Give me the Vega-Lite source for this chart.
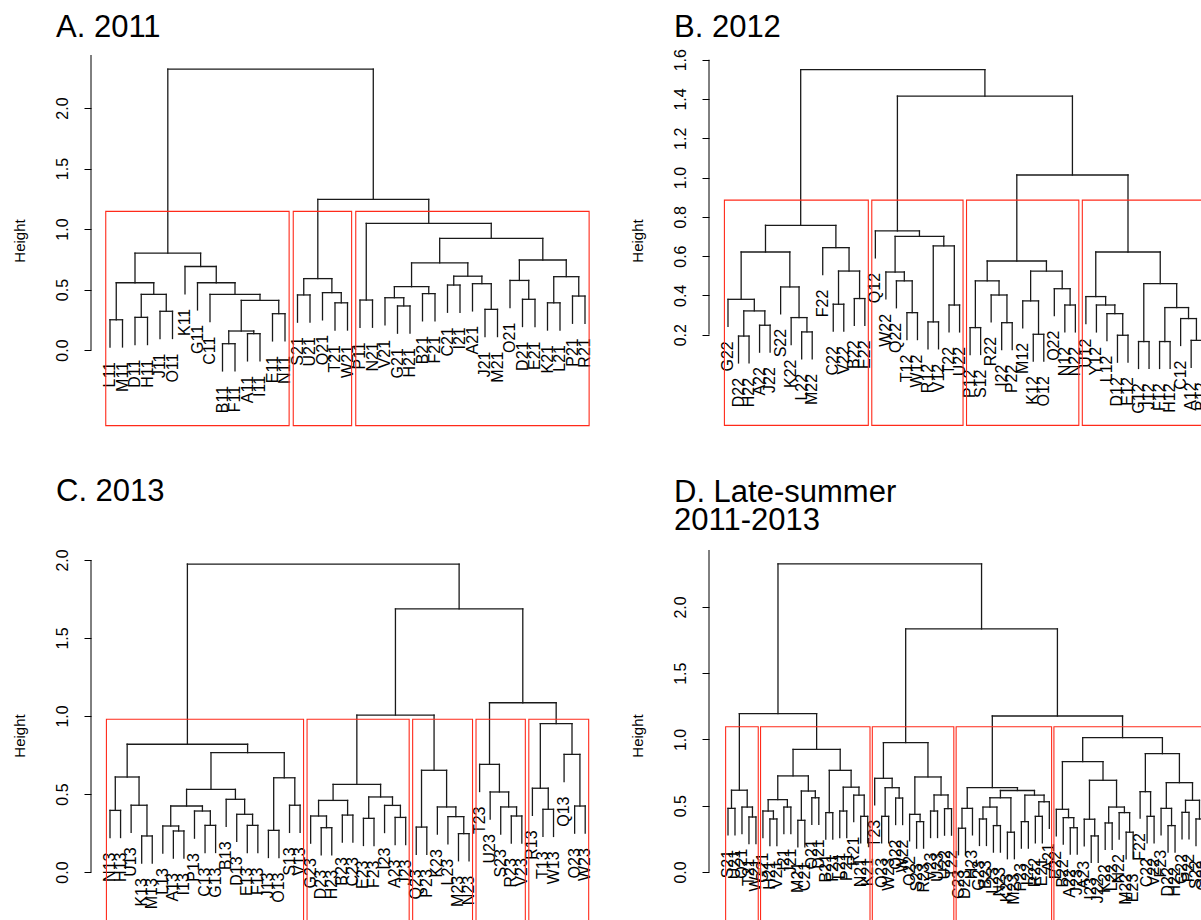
{
"$schema": "https://vega.github.io/schema/vega-lite/v6.json",
"autosize": {"type": "pad"},
"padding": {"left": 11, "top": 12, "right": 0, "bottom": 0},
"background": "white",
"columns": 2,
"bounds": "flush",
"spacing": {"row": 124, "column": 105},
"datasets": {
"aN": [
{"a":1,"b":2,"h":0.25,"p":0.025,"q":0.025},
{"a":3,"b":4,"h":0.27,"p":0.045,"q":0.045},
{"a":5,"b":6,"h":0.32,"p":0.095,"q":0.095},
{"a":3.5,"b":5.5,"h":0.46,"p":0.27,"q":0.32},
{"a":1.5,"b":4.5,"h":0.556,"p":0.25,"q":0.46},
{"a":10,"b":11,"h":0.052,"p":-0.173,"q":-0.173},
{"a":12,"b":13,"h":0.135,"p":-0.09,"q":-0.09},
{"a":10.5,"b":12.5,"h":0.157,"p":0.052,"q":0.135},
{"a":14,"b":15,"h":0.30,"p":0.075,"q":0.075},
{"a":11.5,"b":14.5,"h":0.41,"p":0.157,"q":0.30},
{"a":9,"b":13,"h":0.46,"p":0.235,"q":0.41},
{"a":8,"b":11,"h":0.556,"p":0.331,"q":0.46},
{"a":7,"b":9.5,"h":0.69,"p":0.465,"q":0.556},
{"a":3,"b":8.25,"h":0.80,"p":0.556,"q":0.69},
{"a":16,"b":17,"h":0.455,"p":0.23,"q":0.23},
{"a":19,"b":20,"h":0.39,"p":0.165,"q":0.165},
{"a":18,"b":19.5,"h":0.474,"p":0.249,"q":0.39},
{"a":16.5,"b":18.75,"h":0.59,"p":0.455,"q":0.474},
{"a":21,"b":22,"h":0.413,"p":0.188,"q":0.188},
{"a":24,"b":25,"h":0.364,"p":0.139,"q":0.139},
{"a":23,"b":24.5,"h":0.432,"p":0.207,"q":0.364},
{"a":26,"b":27,"h":0.466,"p":0.241,"q":0.241},
{"a":23.75,"b":26.5,"h":0.523,"p":0.432,"q":0.466},
{"a":28,"b":29,"h":0.537,"p":0.312,"q":0.312},
{"a":31,"b":32,"h":0.336,"p":0.111,"q":0.111},
{"a":30,"b":31.5,"h":0.548,"p":0.323,"q":0.336},
{"a":28.5,"b":30.75,"h":0.61,"p":0.537,"q":0.548},
{"a":25.125,"b":29.625,"h":0.72,"p":0.523,"q":0.61},
{"a":34,"b":35,"h":0.419,"p":0.194,"q":0.194},
{"a":33,"b":34.5,"h":0.575,"p":0.35,"q":0.419},
{"a":36,"b":37,"h":0.39,"p":0.165,"q":0.165},
{"a":38,"b":39,"h":0.446,"p":0.221,"q":0.221},
{"a":36.5,"b":38.5,"h":0.606,"p":0.39,"q":0.446},
{"a":33.75,"b":37.5,"h":0.744,"p":0.575,"q":0.606},
{"a":27.375,"b":35.625,"h":0.923,"p":0.72,"q":0.744},
{"a":21.5,"b":31.5,"h":1.047,"p":0.413,"q":0.923},
{"a":17.625,"b":26.5,"h":1.245,"p":0.59,"q":1.047},
{"a":5.625,"b":22.0625,"h":2.322,"p":0.80,"q":1.245}
],
"aL": [
{"i":1,"e":0.025,"t":"L11"},{"i":2,"e":0.025,"t":"M11"},{"i":3,"e":0.045,"t":"D11"},{"i":4,"e":0.045,"t":"H11"},{"i":5,"e":0.095,"t":"J11"},{"i":6,"e":0.095,"t":"O11"},{"i":7,"e":0.465,"t":"K11"},{"i":8,"e":0.331,"t":"G11"},{"i":9,"e":0.235,"t":"C11"},{"i":10,"e":-0.173,"t":"B11"},{"i":11,"e":-0.173,"t":"F11"},{"i":12,"e":-0.09,"t":"A11"},{"i":13,"e":-0.09,"t":"I11"},{"i":14,"e":0.075,"t":"E11"},{"i":15,"e":0.075,"t":"N11"},{"i":16,"e":0.23,"t":"S21"},{"i":17,"e":0.23,"t":"U21"},{"i":18,"e":0.249,"t":"Q21"},{"i":19,"e":0.165,"t":"T21"},{"i":20,"e":0.165,"t":"W21"},{"i":21,"e":0.188,"t":"P11"},{"i":22,"e":0.188,"t":"N21"},{"i":23,"e":0.207,"t":"V21"},{"i":24,"e":0.139,"t":"G21"},{"i":25,"e":0.139,"t":"H21"},{"i":26,"e":0.241,"t":"B21"},{"i":27,"e":0.241,"t":"F21"},{"i":28,"e":0.312,"t":"C21"},{"i":29,"e":0.312,"t":"I21"},{"i":30,"e":0.323,"t":"A21"},{"i":31,"e":0.111,"t":"J21"},{"i":32,"e":0.111,"t":"M21"},{"i":33,"e":0.35,"t":"O21"},{"i":34,"e":0.194,"t":"D21"},{"i":35,"e":0.194,"t":"E21"},{"i":36,"e":0.165,"t":"K21"},{"i":37,"e":0.165,"t":"L21"},{"i":38,"e":0.221,"t":"P21"},{"i":39,"e":0.221,"t":"R21"}
],
"aR": [
{"l":0.66,"r":15.33,"t":1.146,"u":-0.625},{"l":15.66,"r":20.33,"t":1.146,"u":-0.625},{"l":20.66,"r":39.33,"t":1.146,"u":-0.625}
],
"bN": [
{"a":2,"b":3,"h":0.193,"p":0.056,"q":0.056},
{"a":4,"b":5,"h":0.248,"p":0.111,"q":0.111},
{"a":2.5,"b":4.5,"h":0.321,"p":0.193,"q":0.248},
{"a":1,"b":3.5,"h":0.38,"p":0.243,"q":0.321},
{"a":8,"b":9,"h":0.214,"p":0.077,"q":0.077},
{"a":7,"b":8.5,"h":0.287,"p":0.15,"q":0.214},
{"a":6,"b":7.75,"h":0.443,"p":0.306,"q":0.287},
{"a":2.25,"b":6.875,"h":0.621,"p":0.38,"q":0.443},
{"a":11,"b":12,"h":0.355,"p":0.218,"q":0.218},
{"a":13,"b":14,"h":0.384,"p":0.247,"q":0.247},
{"a":11.5,"b":13.5,"h":0.524,"p":0.355,"q":0.384},
{"a":10,"b":12.5,"h":0.643,"p":0.506,"q":0.524},
{"a":4.5625,"b":11.25,"h":0.757,"p":0.621,"q":0.643},
{"a":18,"b":19,"h":0.312,"p":0.175,"q":0.175},
{"a":17,"b":18.5,"h":0.474,"p":0.337,"q":0.312},
{"a":16,"b":17.75,"h":0.519,"p":0.382,"q":0.474},
{"a":20,"b":21,"h":0.265,"p":0.128,"q":0.128},
{"a":22,"b":23,"h":0.351,"p":0.214,"q":0.214},
{"a":20.5,"b":22.5,"h":0.652,"p":0.265,"q":0.351},
{"a":16.875,"b":21.5,"h":0.701,"p":0.519,"q":0.652},
{"a":15,"b":19.1875,"h":0.728,"p":0.591,"q":0.701},
{"a":24,"b":25,"h":0.236,"p":0.099,"q":0.099},
{"a":27,"b":28,"h":0.261,"p":0.124,"q":0.124},
{"a":26,"b":27.5,"h":0.402,"p":0.265,"q":0.261},
{"a":24.5,"b":26.75,"h":0.474,"p":0.236,"q":0.402},
{"a":30,"b":31,"h":0.202,"p":0.065,"q":0.065},
{"a":29,"b":30.5,"h":0.372,"p":0.235,"q":0.202},
{"a":33,"b":34,"h":0.351,"p":0.214,"q":0.214},
{"a":32,"b":33.5,"h":0.434,"p":0.297,"q":0.351},
{"a":29.75,"b":32.75,"h":0.524,"p":0.372,"q":0.434},
{"a":25.625,"b":31.25,"h":0.575,"p":0.474,"q":0.524},
{"a":38,"b":39,"h":0.197,"p":0.06,"q":0.06},
{"a":37,"b":38.5,"h":0.307,"p":0.17,"q":0.197},
{"a":36,"b":37.75,"h":0.351,"p":0.214,"q":0.307},
{"a":35,"b":36.875,"h":0.394,"p":0.257,"q":0.351},
{"a":40,"b":41,"h":0.165,"p":0.028,"q":0.028},
{"a":42,"b":43,"h":0.165,"p":0.028,"q":0.028},
{"a":45,"b":46,"h":0.171,"p":0.034,"q":0.034},
{"a":44,"b":45.5,"h":0.282,"p":0.145,"q":0.171},
{"a":42.5,"b":44.75,"h":0.338,"p":0.165,"q":0.282},
{"a":40.5,"b":43.625,"h":0.46,"p":0.165,"q":0.338},
{"a":35.9375,"b":42.0625,"h":0.621,"p":0.394,"q":0.46},
{"a":28.4375,"b":39,"h":1.013,"p":0.575,"q":0.621},
{"a":17.094,"b":33.72,"h":1.415,"p":0.728,"q":1.013},
{"a":7.906,"b":25.407,"h":1.55,"p":0.757,"q":1.415}
],
"bL": [
{"i":1,"e":0.243,"t":"G22"},{"i":2,"e":0.056,"t":"D22"},{"i":3,"e":0.056,"t":"H22"},{"i":4,"e":0.111,"t":"A22"},{"i":5,"e":0.111,"t":"J22"},{"i":6,"e":0.306,"t":"S22"},{"i":7,"e":0.15,"t":"K22"},{"i":8,"e":0.077,"t":"L22"},{"i":9,"e":0.077,"t":"M22"},{"i":10,"e":0.506,"t":"F22"},{"i":11,"e":0.218,"t":"C22"},{"i":12,"e":0.218,"t":"V22"},{"i":13,"e":0.247,"t":"B22"},{"i":14,"e":0.247,"t":"E22"},{"i":15,"e":0.591,"t":"Q12"},{"i":16,"e":0.382,"t":"W22"},{"i":17,"e":0.337,"t":"Q22"},{"i":18,"e":0.175,"t":"T12"},{"i":19,"e":0.175,"t":"W12"},{"i":20,"e":0.128,"t":"R12"},{"i":21,"e":0.128,"t":"V12"},{"i":22,"e":0.214,"t":"T22"},{"i":23,"e":0.214,"t":"U22"},{"i":24,"e":0.099,"t":"P12"},{"i":25,"e":0.099,"t":"S12"},{"i":26,"e":0.265,"t":"R22"},{"i":27,"e":0.124,"t":"I22"},{"i":28,"e":0.124,"t":"P22"},{"i":29,"e":0.235,"t":"M12"},{"i":30,"e":0.065,"t":"K12"},{"i":31,"e":0.065,"t":"O12"},{"i":32,"e":0.297,"t":"O22"},{"i":33,"e":0.214,"t":"N12"},{"i":34,"e":0.214,"t":"N22"},{"i":35,"e":0.257,"t":"U12"},{"i":36,"e":0.214,"t":"Y12"},{"i":37,"e":0.17,"t":"L12"},{"i":38,"e":0.06,"t":"D12"},{"i":39,"e":0.06,"t":"E12"},{"i":40,"e":0.028,"t":"G12"},{"i":41,"e":0.028,"t":"J12"},{"i":42,"e":0.028,"t":"F12"},{"i":43,"e":0.028,"t":"H12"},{"i":44,"e":0.145,"t":"C12"},{"i":45,"e":0.034,"t":"A12"},{"i":46,"e":0.034,"t":"B12"}
],
"bR": [
{"l":0.66,"r":14.33,"t":0.885,"u":-0.262},{"l":14.66,"r":23.33,"t":0.885,"u":-0.262},{"l":23.66,"r":34.33,"t":0.885,"u":-0.262},{"l":34.66,"r":46.33,"t":0.885,"u":-0.262}
],
"cN": [
{"a":1,"b":2,"h":0.395,"p":0.221,"q":0.221},
{"a":4,"b":5,"h":0.231,"p":0.057,"q":0.057},
{"a":3,"b":4.5,"h":0.428,"p":0.254,"q":0.231},
{"a":1.5,"b":3.75,"h":0.609,"p":0.395,"q":0.428},
{"a":7,"b":8,"h":0.263,"p":0.089,"q":0.089},
{"a":6,"b":7.5,"h":0.295,"p":0.121,"q":0.263},
{"a":10,"b":11,"h":0.299,"p":0.125,"q":0.125},
{"a":9,"b":10.5,"h":0.391,"p":0.217,"q":0.299},
{"a":6.75,"b":9.75,"h":0.423,"p":0.295,"q":0.391},
{"a":14,"b":15,"h":0.299,"p":0.125,"q":0.125},
{"a":13,"b":14.5,"h":0.37,"p":0.196,"q":0.299},
{"a":12,"b":13.75,"h":0.466,"p":0.292,"q":0.37},
{"a":8.25,"b":12.875,"h":0.53,"p":0.423,"q":0.466},
{"a":16,"b":17,"h":0.267,"p":0.093,"q":0.093},
{"a":18,"b":19,"h":0.428,"p":0.254,"q":0.254},
{"a":16.5,"b":18.5,"h":0.604,"p":0.267,"q":0.428},
{"a":10.5625,"b":17.5,"h":0.765,"p":0.53,"q":0.604},
{"a":2.625,"b":14.03,"h":0.819,"p":0.609,"q":0.765},
{"a":21,"b":22,"h":0.284,"p":0.11,"q":0.11},
{"a":20,"b":21.5,"h":0.359,"p":0.185,"q":0.284},
{"a":23,"b":24,"h":0.365,"p":0.191,"q":0.191},
{"a":20.75,"b":23.5,"h":0.459,"p":0.359,"q":0.365},
{"a":25,"b":26,"h":0.344,"p":0.17,"q":0.17},
{"a":28,"b":29,"h":0.35,"p":0.176,"q":0.176},
{"a":27,"b":28.5,"h":0.427,"p":0.253,"q":0.35},
{"a":25.5,"b":27.75,"h":0.481,"p":0.344,"q":0.427},
{"a":22.125,"b":26.625,"h":0.562,"p":0.459,"q":0.481},
{"a":30,"b":31,"h":0.288,"p":0.114,"q":0.114},
{"a":34,"b":35,"h":0.246,"p":0.072,"q":0.072},
{"a":33,"b":34.5,"h":0.355,"p":0.181,"q":0.246},
{"a":32,"b":33.75,"h":0.417,"p":0.243,"q":0.355},
{"a":30.5,"b":32.875,"h":0.652,"p":0.288,"q":0.417},
{"a":24.375,"b":31.6875,"h":1.006,"p":0.562,"q":0.652},
{"a":39,"b":40,"h":0.359,"p":0.185,"q":0.185},
{"a":38,"b":39.5,"h":0.417,"p":0.243,"q":0.359},
{"a":37,"b":38.75,"h":0.513,"p":0.339,"q":0.417},
{"a":36,"b":37.875,"h":0.69,"p":0.516,"q":0.513},
{"a":42,"b":43,"h":0.402,"p":0.228,"q":0.228},
{"a":41,"b":42.5,"h":0.537,"p":0.363,"q":0.402},
{"a":45,"b":46,"h":0.423,"p":0.249,"q":0.249},
{"a":44,"b":45.5,"h":0.754,"p":0.58,"q":0.423},
{"a":41.75,"b":44.75,"h":0.951,"p":0.537,"q":0.754},
{"a":36.9375,"b":43.25,"h":1.085,"p":0.69,"q":0.951},
{"a":28.03,"b":40.09,"h":1.686,"p":1.006,"q":1.085},
{"a":8.328,"b":34.06,"h":1.974,"p":0.819,"q":1.686}
],
"cL": [
{"i":1,"e":0.221,"t":"N13"},{"i":2,"e":0.221,"t":"H13"},{"i":3,"e":0.254,"t":"U13"},{"i":4,"e":0.057,"t":"K13"},{"i":5,"e":0.057,"t":"M13"},{"i":6,"e":0.121,"t":"L13"},{"i":7,"e":0.089,"t":"A13"},{"i":8,"e":0.089,"t":"I13"},{"i":9,"e":0.217,"t":"P13"},{"i":10,"e":0.125,"t":"C13"},{"i":11,"e":0.125,"t":"G13"},{"i":12,"e":0.292,"t":"B13"},{"i":13,"e":0.196,"t":"D13"},{"i":14,"e":0.125,"t":"E13"},{"i":15,"e":0.125,"t":"F13"},{"i":16,"e":0.093,"t":"J13"},{"i":17,"e":0.093,"t":"O13"},{"i":18,"e":0.254,"t":"S13"},{"i":19,"e":0.254,"t":"V13"},{"i":20,"e":0.185,"t":"G23"},{"i":21,"e":0.11,"t":"D23"},{"i":22,"e":0.11,"t":"H23"},{"i":23,"e":0.191,"t":"B23"},{"i":24,"e":0.191,"t":"C23"},{"i":25,"e":0.17,"t":"E23"},{"i":26,"e":0.17,"t":"F23"},{"i":27,"e":0.253,"t":"I23"},{"i":28,"e":0.176,"t":"A23"},{"i":29,"e":0.176,"t":"J23"},{"i":30,"e":0.114,"t":"Q23"},{"i":31,"e":0.114,"t":"P23"},{"i":32,"e":0.243,"t":"K23"},{"i":33,"e":0.181,"t":"L23"},{"i":34,"e":0.072,"t":"M23"},{"i":35,"e":0.072,"t":"N23"},{"i":36,"e":0.516,"t":"T23"},{"i":37,"e":0.339,"t":"U23"},{"i":38,"e":0.243,"t":"S23"},{"i":39,"e":0.185,"t":"R23"},{"i":40,"e":0.185,"t":"V23"},{"i":41,"e":0.363,"t":"R13"},{"i":42,"e":0.228,"t":"T13"},{"i":43,"e":0.228,"t":"W13"},{"i":44,"e":0.58,"t":"Q13"},{"i":45,"e":0.249,"t":"O23"},{"i":46,"e":0.249,"t":"W23"}
],
"cR": [
{"l":0.66,"r":19.33,"t":0.979,"u":-1},{"l":19.66,"r":29.33,"t":0.979,"u":-1},{"l":29.66,"r":35.33,"t":0.979,"u":-1},{"l":35.66,"r":40.33,"t":0.979,"u":-1},{"l":40.66,"r":46.33,"t":0.979,"u":-1}
],
"dN": [
{"a":1,"b":2,"h":0.48,"p":0.28,"q":0.28},
{"a":4,"b":5,"h":0.415,"p":0.215,"q":0.215},
{"a":3,"b":4.5,"h":0.49,"p":0.29,"q":0.415},
{"a":1.5,"b":3.75,"h":0.617,"p":0.48,"q":0.49},
{"a":7,"b":8,"h":0.40,"p":0.2,"q":0.2},
{"a":6,"b":7.5,"h":0.46,"p":0.26,"q":0.40},
{"a":9,"b":10,"h":0.49,"p":0.29,"q":0.29},
{"a":6.75,"b":9.5,"h":0.546,"p":0.46,"q":0.49},
{"a":11,"b":12,"h":0.39,"p":0.19,"q":0.19},
{"a":13,"b":14,"h":0.56,"p":0.36,"q":0.36},
{"a":11.5,"b":13.5,"h":0.611,"p":0.39,"q":0.56},
{"a":8.125,"b":12.5,"h":0.725,"p":0.546,"q":0.611},
{"a":15,"b":16,"h":0.448,"p":0.248,"q":0.248},
{"a":17,"b":18,"h":0.46,"p":0.26,"q":0.26},
{"a":20,"b":21,"h":0.42,"p":0.22,"q":0.22},
{"a":19,"b":20.5,"h":0.58,"p":0.38,"q":0.42},
{"a":17.5,"b":19.75,"h":0.64,"p":0.46,"q":0.58},
{"a":15.5,"b":18.625,"h":0.767,"p":0.448,"q":0.64},
{"a":10.3125,"b":17.0625,"h":0.926,"p":0.725,"q":0.767},
{"a":2.625,"b":13.6875,"h":1.195,"p":0.617,"q":0.926},
{"a":23,"b":24,"h":0.42,"p":0.22,"q":0.22},
{"a":25,"b":26,"h":0.558,"p":0.358,"q":0.358},
{"a":23.5,"b":25.5,"h":0.636,"p":0.42,"q":0.558},
{"a":22,"b":24.5,"h":0.707,"p":0.507,"q":0.636},
{"a":28,"b":29,"h":0.38,"p":0.18,"q":0.18},
{"a":27,"b":28.5,"h":0.435,"p":0.235,"q":0.38},
{"a":30,"b":31,"h":0.46,"p":0.26,"q":0.26},
{"a":32,"b":33,"h":0.478,"p":0.278,"q":0.278},
{"a":30.5,"b":32.5,"h":0.581,"p":0.46,"q":0.478},
{"a":27.75,"b":31.5,"h":0.717,"p":0.435,"q":0.581},
{"a":23.25,"b":29.625,"h":0.976,"p":0.707,"q":0.717},
{"a":34,"b":35,"h":0.33,"p":0.13,"q":0.13},
{"a":34.5,"b":36,"h":0.48,"p":0.33,"q":0.28},
{"a":37,"b":38,"h":0.40,"p":0.2,"q":0.2},
{"a":39,"b":40,"h":0.35,"p":0.15,"q":0.15},
{"a":37.5,"b":39.5,"h":0.49,"p":0.40,"q":0.35},
{"a":41,"b":42,"h":0.30,"p":0.1,"q":0.1},
{"a":38.5,"b":41.5,"h":0.56,"p":0.49,"q":0.30},
{"a":43,"b":44,"h":0.38,"p":0.18,"q":0.18},
{"a":45,"b":46,"h":0.42,"p":0.22,"q":0.22},
{"a":45.5,"b":47,"h":0.53,"p":0.42,"q":0.33},
{"a":43.5,"b":46.25,"h":0.58,"p":0.38,"q":0.53},
{"a":40,"b":44.875,"h":0.615,"p":0.56,"q":0.58},
{"a":35.25,"b":42.4375,"h":0.636,"p":0.48,"q":0.615},
{"a":50,"b":51,"h":0.334,"p":0.134,"q":0.134},
{"a":49,"b":50.5,"h":0.41,"p":0.21,"q":0.334},
{"a":48,"b":49.75,"h":0.473,"p":0.273,"q":0.41},
{"a":53,"b":54,"h":0.272,"p":0.072,"q":0.072},
{"a":52,"b":53.5,"h":0.398,"p":0.198,"q":0.272},
{"a":55,"b":56,"h":0.37,"p":0.17,"q":0.17},
{"a":58,"b":59,"h":0.30,"p":0.1,"q":0.1},
{"a":57,"b":58.5,"h":0.448,"p":0.248,"q":0.30},
{"a":55.5,"b":57.75,"h":0.49,"p":0.37,"q":0.448},
{"a":52.75,"b":56.625,"h":0.692,"p":0.398,"q":0.49},
{"a":48.875,"b":54.6875,"h":0.833,"p":0.473,"q":0.692},
{"a":61,"b":62,"h":0.42,"p":0.22,"q":0.22},
{"a":60,"b":61.5,"h":0.606,"p":0.406,"q":0.42},
{"a":64,"b":65,"h":0.35,"p":0.15,"q":0.15},
{"a":63,"b":64.5,"h":0.48,"p":0.28,"q":0.35},
{"a":66,"b":67,"h":0.45,"p":0.25,"q":0.25},
{"a":68,"b":69,"h":0.40,"p":0.2,"q":0.2},
{"a":66.5,"b":68.5,"h":0.541,"p":0.45,"q":0.40},
{"a":63.75,"b":67.5,"h":0.674,"p":0.48,"q":0.541},
{"a":60.75,"b":65.625,"h":0.893,"p":0.606,"q":0.674},
{"a":51.78,"b":63.19,"h":1.014,"p":0.833,"q":0.893},
{"a":38.84,"b":57.485,"h":1.177,"p":0.636,"q":1.014},
{"a":26.4375,"b":48.16,"h":1.834,"p":0.976,"q":1.177},
{"a":8.156,"b":37.3,"h":2.325,"p":1.195,"q":1.834}
],
"dL": [
{"i":1,"e":0.28,"t":"S21"},{"i":2,"e":0.28,"t":"U21"},{"i":3,"e":0.29,"t":"Q21"},{"i":4,"e":0.215,"t":"T21"},{"i":5,"e":0.215,"t":"W21"},{"i":6,"e":0.26,"t":"G21"},{"i":7,"e":0.2,"t":"H21"},{"i":8,"e":0.2,"t":"V21"},{"i":9,"e":0.29,"t":"I21"},{"i":10,"e":0.29,"t":"J21"},{"i":11,"e":0.19,"t":"M21"},{"i":12,"e":0.19,"t":"C21"},{"i":13,"e":0.36,"t":"O21"},{"i":14,"e":0.36,"t":"D21"},{"i":15,"e":0.248,"t":"B21"},{"i":16,"e":0.248,"t":"F21"},{"i":17,"e":0.26,"t":"L21"},{"i":18,"e":0.26,"t":"P21"},{"i":19,"e":0.38,"t":"R21"},{"i":20,"e":0.22,"t":"N21"},{"i":21,"e":0.22,"t":"K21"},{"i":22,"e":0.507,"t":"T23"},{"i":23,"e":0.22,"t":"O23"},{"i":24,"e":0.22,"t":"W23"},{"i":25,"e":0.358,"t":"Q22"},{"i":26,"e":0.358,"t":"W22"},{"i":27,"e":0.235,"t":"O22"},{"i":28,"e":0.18,"t":"S23"},{"i":29,"e":0.18,"t":"R23"},{"i":30,"e":0.26,"t":"V23"},{"i":31,"e":0.26,"t":"U23"},{"i":32,"e":0.278,"t":"U22"},{"i":33,"e":0.278,"t":"T22"},{"i":34,"e":0.13,"t":"C23"},{"i":35,"e":0.13,"t":"D23"},{"i":36,"e":0.28,"t":"H23"},{"i":37,"e":0.2,"t":"G23"},{"i":38,"e":0.2,"t":"B23"},{"i":39,"e":0.15,"t":"L23"},{"i":40,"e":0.15,"t":"N23"},{"i":41,"e":0.1,"t":"K23"},{"i":42,"e":0.1,"t":"M23"},{"i":43,"e":0.18,"t":"P23"},{"i":44,"e":0.18,"t":"I22"},{"i":45,"e":0.22,"t":"R22"},{"i":46,"e":0.22,"t":"E21"},{"i":47,"e":0.33,"t":"A21"},{"i":48,"e":0.273,"t":"E22"},{"i":49,"e":0.21,"t":"B22"},{"i":50,"e":0.134,"t":"A22"},{"i":51,"e":0.134,"t":"J23"},{"i":52,"e":0.198,"t":"A23"},{"i":53,"e":0.072,"t":"I23"},{"i":54,"e":0.072,"t":"J22"},{"i":55,"e":0.17,"t":"K22"},{"i":56,"e":0.17,"t":"L22"},{"i":57,"e":0.248,"t":"N22"},{"i":58,"e":0.1,"t":"M22"},{"i":59,"e":0.1,"t":"E23"},{"i":60,"e":0.406,"t":"F22"},{"i":61,"e":0.22,"t":"C22"},{"i":62,"e":0.22,"t":"V22"},{"i":63,"e":0.28,"t":"F23"},{"i":64,"e":0.15,"t":"D22"},{"i":65,"e":0.15,"t":"H22"},{"i":66,"e":0.25,"t":"G22"},{"i":67,"e":0.25,"t":"P22"},{"i":68,"e":0.2,"t":"S22"},{"i":69,"e":0.2,"t":"Q23"}
],
"dR": [
{"l":0.66,"r":5.33,"t":1.096,"u":-1},{"l":5.66,"r":21.33,"t":1.096,"u":-1},{"l":21.66,"r":33.33,"t":1.096,"u":-1},{"l":33.66,"r":47.33,"t":1.096,"u":-1},{"l":47.66,"r":69.33,"t":1.096,"u":-1}
]
},
"concat": [
{
"width": 513, "height": 371,
"title": {"text": "A. 2011", "offset": 10.5},
"layer": [
{"data": {"name": "aN"}, "mark": {"type": "rule", "color": "#1a1a1a", "strokeWidth": 1.3, "strokeCap": "square", "clip": true},
 "encoding": {"x": {"field": "a", "type": "quantitative", "scale": {"domain": [-0.52, 40.52], "nice": false, "zero": false}, "axis": null}, "x2": {"field": "b"},
  "y": {"field": "h", "type": "quantitative", "title": "Height", "scale": {"domain": [-0.628, 2.438], "nice": false, "zero": false}, "axis": {"title": "Height", "titleFontSize": 15, "titleFont": "Liberation Sans", "titlePadding": 27, "values": [0, 0.5, 1, 1.5, 2]}}}},
{"data": {"name": "aN"}, "mark": {"type": "rule", "color": "#1a1a1a", "strokeWidth": 1.3, "strokeCap": "square", "clip": true},
 "encoding": {"x": {"field": "a", "type": "quantitative", "scale": {"domain": [-0.52, 40.52], "nice": false, "zero": false}, "axis": null},
  "y": {"field": "p", "type": "quantitative", "title": "Height", "scale": {"domain": [-0.628, 2.438], "nice": false, "zero": false}}, "y2": {"field": "h"}}},
{"data": {"name": "aN"}, "mark": {"type": "rule", "color": "#1a1a1a", "strokeWidth": 1.3, "strokeCap": "square", "clip": true},
 "encoding": {"x": {"field": "b", "type": "quantitative", "scale": {"domain": [-0.52, 40.52], "nice": false, "zero": false}, "axis": null},
  "y": {"field": "q", "type": "quantitative", "title": "Height", "scale": {"domain": [-0.628, 2.438], "nice": false, "zero": false}}, "y2": {"field": "h"}}},
{"data": {"name": "aL"}, "mark": {"type": "text", "angle": 270, "align": "right", "baseline": "middle", "dx": -15, "fontSize": 16, "font": "Liberation Sans", "color": "#000", "clip": true},
 "encoding": {"x": {"field": "i", "type": "quantitative", "scale": {"domain": [-0.52, 40.52], "nice": false, "zero": false}, "axis": null},
  "y": {"field": "e", "type": "quantitative", "title": "Height", "scale": {"domain": [-0.628, 2.438], "nice": false, "zero": false}}, "text": {"field": "t"}}},
{"data": {"name": "aR"}, "mark": {"type": "rect", "fillOpacity": 0, "stroke": "#ff2a1a", "strokeWidth": 1.1},
 "encoding": {"x": {"field": "l", "type": "quantitative", "scale": {"domain": [-0.52, 40.52], "nice": false, "zero": false}, "axis": null}, "x2": {"field": "r"},
  "y": {"field": "t", "type": "quantitative", "title": "Height", "scale": {"domain": [-0.628, 2.438], "nice": false, "zero": false}}, "y2": {"field": "u"}}},
{"data": {"values": [{}]}, "mark": {"type": "rule", "color": "#000", "strokeWidth": 1},
 "encoding": {"x": {"datum": -0.52, "type": "quantitative", "scale": {"domain": [-0.52, 40.52], "nice": false, "zero": false}, "axis": null},
  "y": {"datum": 0, "type": "quantitative", "title": "Height", "scale": {"domain": [-0.628, 2.438], "nice": false, "zero": false}}, "y2": {"datum": 2.438}}}
]
},
{
"width": 493, "height": 371,
"title": {"text": "B. 2012", "offset": 4.2},
"layer": [
{"data": {"name": "bN"}, "mark": {"type": "rule", "color": "#1a1a1a", "strokeWidth": 1.3, "strokeCap": "square", "clip": true},
 "encoding": {"x": {"field": "a", "type": "quantitative", "scale": {"domain": [-0.804, 46.03], "nice": false, "zero": false}, "axis": null}, "x2": {"field": "b"},
  "y": {"field": "h", "type": "quantitative", "title": "Height", "scale": {"domain": [-0.265, 1.624], "nice": false, "zero": false}, "axis": {"title": "Height", "titleFontSize": 15, "titleFont": "Liberation Sans", "titlePadding": 27, "values": [0.2, 0.4, 0.6, 0.8, 1.0, 1.2, 1.4, 1.6]}}}},
{"data": {"name": "bN"}, "mark": {"type": "rule", "color": "#1a1a1a", "strokeWidth": 1.3, "strokeCap": "square", "clip": true},
 "encoding": {"x": {"field": "a", "type": "quantitative", "scale": {"domain": [-0.804, 46.03], "nice": false, "zero": false}, "axis": null},
  "y": {"field": "p", "type": "quantitative", "title": "Height", "scale": {"domain": [-0.265, 1.624], "nice": false, "zero": false}}, "y2": {"field": "h"}}},
{"data": {"name": "bN"}, "mark": {"type": "rule", "color": "#1a1a1a", "strokeWidth": 1.3, "strokeCap": "square", "clip": true},
 "encoding": {"x": {"field": "b", "type": "quantitative", "scale": {"domain": [-0.804, 46.03], "nice": false, "zero": false}, "axis": null},
  "y": {"field": "q", "type": "quantitative", "title": "Height", "scale": {"domain": [-0.265, 1.624], "nice": false, "zero": false}}, "y2": {"field": "h"}}},
{"data": {"name": "bL"}, "mark": {"type": "text", "angle": 270, "align": "right", "baseline": "middle", "dx": -15, "fontSize": 16, "font": "Liberation Sans", "color": "#000", "clip": true},
 "encoding": {"x": {"field": "i", "type": "quantitative", "scale": {"domain": [-0.804, 46.03], "nice": false, "zero": false}, "axis": null},
  "y": {"field": "e", "type": "quantitative", "title": "Height", "scale": {"domain": [-0.265, 1.624], "nice": false, "zero": false}}, "text": {"field": "t"}}},
{"data": {"name": "bR"}, "mark": {"type": "rect", "fillOpacity": 0, "stroke": "#ff2a1a", "strokeWidth": 1.1, "clip": true},
 "encoding": {"x": {"field": "l", "type": "quantitative", "scale": {"domain": [-0.804, 46.03], "nice": false, "zero": false}, "axis": null}, "x2": {"field": "r"},
  "y": {"field": "t", "type": "quantitative", "title": "Height", "scale": {"domain": [-0.265, 1.624], "nice": false, "zero": false}}, "y2": {"field": "u"}}},
{"data": {"values": [{}]}, "mark": {"type": "rule", "color": "#000", "strokeWidth": 1},
 "encoding": {"x": {"datum": -0.804, "type": "quantitative", "scale": {"domain": [-0.804, 46.03], "nice": false, "zero": false}, "axis": null},
  "y": {"datum": 0.2, "type": "quantitative", "title": "Height", "scale": {"domain": [-0.265, 1.624], "nice": false, "zero": false}}, "y2": {"datum": 1.6}}}
]
},
{
"width": 513, "height": 371,
"title": {"text": "C. 2013", "offset": 40.5},
"layer": [
{"data": {"name": "cN"}, "mark": {"type": "rule", "color": "#1a1a1a", "strokeWidth": 1.3, "strokeCap": "square", "clip": true},
 "encoding": {"x": {"field": "a", "type": "quantitative", "scale": {"domain": [-0.8, 47.78], "nice": false, "zero": false}, "axis": null}, "x2": {"field": "b"},
  "y": {"field": "h", "type": "quantitative", "title": "Height", "scale": {"domain": [-0.314, 2.064], "nice": false, "zero": false}, "axis": {"title": "Height", "titleFontSize": 15, "titleFont": "Liberation Sans", "titlePadding": 27, "values": [0, 0.5, 1, 1.5, 2]}}}},
{"data": {"name": "cN"}, "mark": {"type": "rule", "color": "#1a1a1a", "strokeWidth": 1.3, "strokeCap": "square", "clip": true},
 "encoding": {"x": {"field": "a", "type": "quantitative", "scale": {"domain": [-0.8, 47.78], "nice": false, "zero": false}, "axis": null},
  "y": {"field": "p", "type": "quantitative", "title": "Height", "scale": {"domain": [-0.314, 2.064], "nice": false, "zero": false}}, "y2": {"field": "h"}}},
{"data": {"name": "cN"}, "mark": {"type": "rule", "color": "#1a1a1a", "strokeWidth": 1.3, "strokeCap": "square", "clip": true},
 "encoding": {"x": {"field": "b", "type": "quantitative", "scale": {"domain": [-0.8, 47.78], "nice": false, "zero": false}, "axis": null},
  "y": {"field": "q", "type": "quantitative", "title": "Height", "scale": {"domain": [-0.314, 2.064], "nice": false, "zero": false}}, "y2": {"field": "h"}}},
{"data": {"name": "cL"}, "mark": {"type": "text", "angle": 270, "align": "right", "baseline": "middle", "dx": -15, "fontSize": 16, "font": "Liberation Sans", "color": "#000", "clip": true},
 "encoding": {"x": {"field": "i", "type": "quantitative", "scale": {"domain": [-0.8, 47.78], "nice": false, "zero": false}, "axis": null},
  "y": {"field": "e", "type": "quantitative", "title": "Height", "scale": {"domain": [-0.314, 2.064], "nice": false, "zero": false}}, "text": {"field": "t"}}},
{"data": {"name": "cR"}, "mark": {"type": "rect", "fillOpacity": 0, "stroke": "#ff2a1a", "strokeWidth": 1.1, "clip": true},
 "encoding": {"x": {"field": "l", "type": "quantitative", "scale": {"domain": [-0.8, 47.78], "nice": false, "zero": false}, "axis": null}, "x2": {"field": "r"},
  "y": {"field": "t", "type": "quantitative", "title": "Height", "scale": {"domain": [-0.314, 2.064], "nice": false, "zero": false}}, "y2": {"field": "u"}}},
{"data": {"values": [{}]}, "mark": {"type": "rule", "color": "#000", "strokeWidth": 1},
 "encoding": {"x": {"datum": -0.8, "type": "quantitative", "scale": {"domain": [-0.8, 47.78], "nice": false, "zero": false}, "axis": null},
  "y": {"datum": 0, "type": "quantitative", "title": "Height", "scale": {"domain": [-0.314, 2.064], "nice": false, "zero": false}}, "y2": {"datum": 2.0}}}
]
},
{
"width": 493, "height": 371,
"title": {"text": ["D. Late-summer", "2011-2013"], "offset": 12.5},
"layer": [
{"data": {"name": "dN"}, "mark": {"type": "rule", "color": "#1a1a1a", "strokeWidth": 1.3, "strokeCap": "square", "clip": true},
 "encoding": {"x": {"field": "a", "type": "quantitative", "scale": {"domain": [-1.72, 68.86], "nice": false, "zero": false}, "axis": null}, "x2": {"field": "b"},
  "y": {"field": "h", "type": "quantitative", "title": "Height", "scale": {"domain": [-0.37, 2.43], "nice": false, "zero": false}, "axis": {"title": "Height", "titleFontSize": 15, "titleFont": "Liberation Sans", "titlePadding": 27, "values": [0, 0.5, 1, 1.5, 2]}}}},
{"data": {"name": "dN"}, "mark": {"type": "rule", "color": "#1a1a1a", "strokeWidth": 1.3, "strokeCap": "square", "clip": true},
 "encoding": {"x": {"field": "a", "type": "quantitative", "scale": {"domain": [-1.72, 68.86], "nice": false, "zero": false}, "axis": null},
  "y": {"field": "p", "type": "quantitative", "title": "Height", "scale": {"domain": [-0.37, 2.43], "nice": false, "zero": false}}, "y2": {"field": "h"}}},
{"data": {"name": "dN"}, "mark": {"type": "rule", "color": "#1a1a1a", "strokeWidth": 1.3, "strokeCap": "square", "clip": true},
 "encoding": {"x": {"field": "b", "type": "quantitative", "scale": {"domain": [-1.72, 68.86], "nice": false, "zero": false}, "axis": null},
  "y": {"field": "q", "type": "quantitative", "title": "Height", "scale": {"domain": [-0.37, 2.43], "nice": false, "zero": false}}, "y2": {"field": "h"}}},
{"data": {"name": "dL"}, "mark": {"type": "text", "angle": 270, "align": "right", "baseline": "middle", "dx": -15, "fontSize": 16, "font": "Liberation Sans", "color": "#000", "clip": true},
 "encoding": {"x": {"field": "i", "type": "quantitative", "scale": {"domain": [-1.72, 68.86], "nice": false, "zero": false}, "axis": null},
  "y": {"field": "e", "type": "quantitative", "title": "Height", "scale": {"domain": [-0.37, 2.43], "nice": false, "zero": false}}, "text": {"field": "t"}}},
{"data": {"name": "dR"}, "mark": {"type": "rect", "fillOpacity": 0, "stroke": "#ff2a1a", "strokeWidth": 1.1, "clip": true},
 "encoding": {"x": {"field": "l", "type": "quantitative", "scale": {"domain": [-1.72, 68.86], "nice": false, "zero": false}, "axis": null}, "x2": {"field": "r"},
  "y": {"field": "t", "type": "quantitative", "title": "Height", "scale": {"domain": [-0.37, 2.43], "nice": false, "zero": false}}, "y2": {"field": "u"}}},
{"data": {"values": [{}]}, "mark": {"type": "rule", "color": "#000", "strokeWidth": 1},
 "encoding": {"x": {"datum": -1.72, "type": "quantitative", "scale": {"domain": [-1.72, 68.86], "nice": false, "zero": false}, "axis": null},
  "y": {"datum": 0, "type": "quantitative", "title": "Height", "scale": {"domain": [-0.37, 2.43], "nice": false, "zero": false}}, "y2": {"datum": 2.43}}}
]
}
],
"config": {
"view": {"stroke": null},
"font": "Liberation Sans",
"axis": {"domain": false, "grid": false, "ticks": true, "tickSize": 7, "tickColor": "#000", "tickWidth": 1, "labelAngle": 270, "labelAlign": "center", "labelBaseline": "bottom", "labelPadding": 14, "labelFont": "Liberation Sans", "labelFontSize": 16, "labelColor": "#000", "titleFont": "Liberation Sans", "titleFontSize": 15, "titleFontWeight": "normal", "titleColor": "#000", "titlePadding": 27, "labelOverlap": false, "labelFlush": false, "format": ".1f"},
"title": {"anchor": "start", "frame": "group", "dx": -35, "fontSize": 31, "font": "Liberation Sans", "fontWeight": "normal", "color": "#000", "lineHeight": 28}
}
}
